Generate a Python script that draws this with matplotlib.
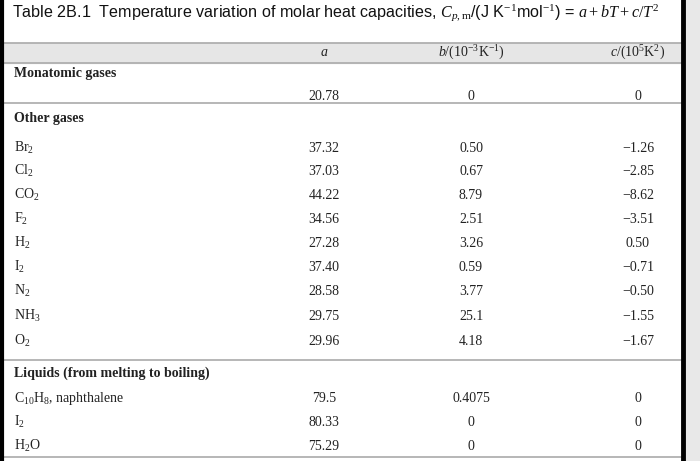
import matplotlib.pyplot as plt

# table contents
col_heads = [r"$a$", r"$b$/(10$^{-3}$K$^{-1}$)", r"$c$/(10$^{5}$K$^{2}$)"]
groups = ["Monatomic gases", "Other gases", "Liquids (from melting to boiling)"]
mono_vals = ["20.78", "0", "0"]
gas_names = [r"Br$_2$", r"Cl$_2$", r"CO$_2$", r"F$_2$", r"H$_2$", r"I$_2$",
             r"N$_2$", r"NH$_3$", r"O$_2$"]
gas_a = ["37.32", "37.03", "44.22", "34.56", "27.28", "37.40", "28.58", "29.75", "29.96"]
gas_b = ["0.50", "0.67", "8.79", "2.51", "3.26", "0.59", "3.77", "25.1", "4.18"]
gas_c = ["\u22121.26", "\u22122.85", "\u22128.62", "\u22123.51", "0.50", "\u22120.71",
         "\u22120.50", "\u22121.55", "\u22121.67"]
liq_names = [r"C$_{10}$H$_8$, naphthalene", r"I$_2$", r"H$_2$O"]
liq_a = ["79.5", "80.33", "75.29"]
liq_b = ["0.4075", "0", "0"]
liq_c = ["0", "0", "0"]

plt.rcParams['mathtext.fontset'] = 'custom'
plt.rcParams['mathtext.rm'] = 'Liberation Serif'
plt.rcParams['mathtext.it'] = 'Liberation Serif:italic'

fig = plt.figure(figsize=(7, 4.61), dpi=100)
ax = fig.add_axes([0, 0, 1, 1])
ax.set_xlim(0, 700)
ax.set_ylim(461, 0)
ax.axis("off")

serif = dict(family="Liberation Serif", fontsize=10, color="#222222", va="center")
xs = [324, 471, 638]

# frame and bands
ax.fill_between([683, 700], 0, 461, color="#e8e8e8", zorder=0)
ax.fill_between([4, 683], 43, 63, color="#e6e6e6", zorder=0)
for y in [43, 63, 103, 360, 457]:
    ax.plot([4, 683], [y, y], color="#aaaaaa", lw=1.2)
ax.plot([2, 2], [0, 461], color="black", lw=3)
ax.plot([683, 683], [0, 461], color="black", lw=3.5)

ax.text(12, 13, "Table 2B.1  Temperature variation of molar heat capacities, "
        r"$C_{p,\mathrm{m}}$/(J K$^{-1}$mol$^{-1}$) = $a + bT + c/T^{2}$",
        family="Liberation Sans", fontsize=11.6, va="center", color="#111111")

for x, h in zip(xs, col_heads):
    ax.text(x, 53, h, ha="center", **serif)

ax.text(14, 74, groups[0], fontweight="bold", **serif)
for x, v in zip(xs, mono_vals):
    ax.text(x, 96, v, ha="center", **serif)

ax.text(14, 118, groups[1], fontweight="bold", **serif)
gas_y = [148, 171, 195, 219, 243, 267, 291, 316, 341]
for i, y in enumerate(gas_y):
    ax.text(14, y, gas_names[i], **serif)
    for x, v in zip(xs, [gas_a[i], gas_b[i], gas_c[i]]):
        ax.text(x, y, v, ha="center", **serif)

ax.text(14, 373, groups[2], fontweight="bold", **serif)
liq_y = [398, 422, 446]
for i, y in enumerate(liq_y):
    ax.text(14, y, liq_names[i], **serif)
    for x, v in zip(xs, [liq_a[i], liq_b[i], liq_c[i]]):
        ax.text(x, y, v, ha="center", **serif)

fig.savefig("out.png", dpi=100)
